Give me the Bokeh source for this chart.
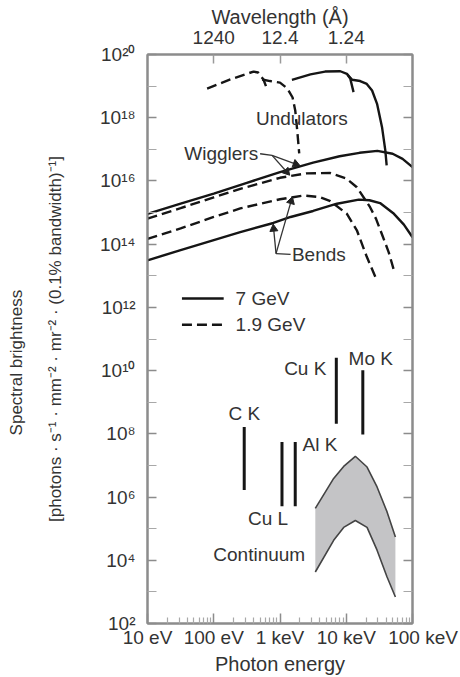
import math
import numpy as np
from bokeh.plotting import figure
from bokeh.models import LogAxis, FixedTicker, CustomJSTickFormatter, Range1d
from bokeh.core.properties import value
from bokeh.embed import file_html
from bokeh.resources import INLINE

# ---------------- data (log10 photon energy in eV, log10 spectral brightness) -------------
wig7_logE = [1.0, 1.5, 2.0, 2.5, 3.0, 3.5, 3.9, 4.2, 4.47, 4.7, 4.85, 5.0]
wig7_logB = [14.96, 15.28, 15.60, 15.94, 16.28, 16.58, 16.78, 16.89, 16.95, 16.86, 16.70, 16.44]

bend7_logE = [1.0, 1.5, 2.0, 2.4, 2.9, 3.16, 3.5, 3.86, 4.19, 4.35, 4.51, 4.72, 4.87, 5.0]
bend7_logB = [13.49, 13.81, 14.13, 14.38, 14.67, 14.86, 15.05, 15.28, 15.41, 15.39, 15.30, 14.96, 14.62, 14.22]

wig19_logE = [1.0, 1.5, 2.0, 2.4, 3.0, 3.4, 3.76, 4.0, 4.16, 4.36, 4.45, 4.55, 4.64, 4.72]
wig19_logB = [14.81, 15.14, 15.48, 15.75, 16.10, 16.24, 16.25, 16.08, 15.80, 15.17, 14.80, 14.25, 13.75, 13.17]

bend19_logE = [1.0, 1.5, 2.0, 2.4, 3.0, 3.36, 3.6, 3.76, 4.01, 4.16, 4.31, 4.44]
bend19_logB = [14.17, 14.50, 14.86, 15.13, 15.42, 15.54, 15.49, 15.36, 14.96, 14.44, 13.60, 12.96]

und7a_logE = [3.18, 3.46, 3.68, 3.91, 4.01, 4.06, 4.11]
und7a_logB = [19.20, 19.37, 19.46, 19.47, 19.39, 19.24, 18.81]
und7b_logE = [4.02, 4.09, 4.21, 4.31, 4.39, 4.465, 4.54, 4.59, 4.61]
und7b_logB = [19.36, 19.20, 19.16, 19.07, 18.86, 18.44, 17.70, 16.96, 16.49]

und19a_logE = [1.90, 2.25, 2.60, 2.67, 2.75, 2.79]
und19a_logB = [18.92, 19.21, 19.46, 19.43, 19.21, 18.99]
und19b_logE = [2.73, 2.85, 3.0, 3.11, 3.19, 3.23, 3.26, 3.29]
und19b_logB = [19.21, 19.16, 19.11, 18.93, 18.64, 18.23, 17.60, 16.87]

# characteristic lines
line_names = ["C K", "Cu L", "Al K", "Cu K", "Mo K"]
line_logE = [2.46, 3.03, 3.23, 3.85, 4.25]
line_top = [8.22, 7.74, 7.74, 10.41, 10.01]
line_bottom = [6.22, 5.71, 5.71, 8.32, 7.98]

# bremsstrahlung continuum band
cont_logE = [3.533, 3.81, 3.961, 4.137, 4.314, 4.465, 4.616, 4.742]
cont_upper = [5.64, 6.59, 6.97, 7.29, 6.95, 6.32, 5.53, 4.74]
cont_lower = [3.63, 4.63, 5.04, 5.26, 5.04, 4.32, 3.47, 2.84]

# legend
legend_labels = ["7 GeV", "1.9 GeV"]
legend_key_logE = [1.52, 2.15]
legend_row_logB = [12.28, 11.45]

# axes
energy_ticks = [10, 100, 1000, 10000, 100000]
energy_labels = ["10 eV", "100 eV", "1 keV", "10 keV", "\u00a0\u00a0\u00a0\u00a0100 keV"]
wavelength_tick_pos = [100, 1000, 10000]
wavelength_labels = ["1240", "12.4", "1.24"]
bright_ticks = [1e2, 1e4, 1e6, 1e8, 1e10, 1e12, 1e14, 1e16, 1e18, 1e20]
bright_labels = ["10²", "10⁴", "10⁶", "10⁸", "10¹⁰", "10¹²", "10¹⁴", "10¹⁶", "10¹⁸", "10²⁰"]
bright_minor = [1e3, 1e5, 1e7, 1e9, 1e11, 1e13, 1e15, 1e17, 1e19]

# ---------------- styling ----------------
FONT = "Liberation Sans"
TXT = "#333333"
AX = "#8c8c8c"
INK = "#151515"
DASH = "10 5"
W, H = 460, 677
BL, BR, BT, BB = 147, 48, 54, 54


def E(v):
    return [10 ** a for a in v]


def fmt(tvals, tlabels):
    return CustomJSTickFormatter(args=dict(tv=tvals, tl=tlabels), code="""
        for (let i = 0; i < tv.length; i++) {
            if (Math.abs(Math.log10(tv[i]) - Math.log10(tick)) < 1e-6) return tl[i];
        }
        return "";
    """)


p = figure(width=W, height=H, x_axis_type="log", y_axis_type="log",
           x_range=Range1d(10, 1e5), y_range=Range1d(1e2, 1e20),
           output_backend="svg", toolbar_location=None,
           min_border_left=BL, min_border_right=BR, min_border_top=BT, min_border_bottom=BB)
p.grid.grid_line_color = None
p.outline_line_color = AX
p.outline_line_width = 2
p.background_fill_color = "white"
p.border_fill_color = "white"


def style_axis(ax):
    ax.axis_line_color = AX
    ax.axis_line_width = 2
    ax.major_tick_line_color = AX
    ax.minor_tick_line_color = "#a8a8a8"
    ax.major_tick_line_width = 1.5
    ax.minor_tick_line_width = 1.2
    ax.major_tick_out = 0
    ax.minor_tick_out = 0
    ax.major_label_text_font = FONT
    ax.major_label_text_font_size = "19px"
    ax.major_label_text_color = TXT
    ax.axis_label_text_font = FONT
    ax.axis_label_text_font_style = "normal"
    ax.axis_label_text_color = TXT


# bottom axis
xa = p.xaxis[0]
style_axis(xa)
xa.ticker = FixedTicker(ticks=energy_ticks,
                        minor_ticks=[m * d for d in energy_ticks[:-1] for m in range(2, 10)])
xa.formatter = fmt(energy_ticks, energy_labels)
xa.major_tick_in = 10
xa.minor_tick_in = 6
xa.major_label_standoff = 3
xa.axis_label = "Photon energy"
xa.axis_label_text_font_size = "20px"
xa.axis_label_standoff = 2

# left axis
ya = p.yaxis[0]
style_axis(ya)
ya.ticker = FixedTicker(ticks=bright_ticks, minor_ticks=bright_minor)
ya.formatter = fmt(bright_ticks, bright_labels)
ya.major_tick_in = 9
ya.minor_tick_in = 9
ya.major_label_standoff = 12
ya.axis_label = "[photons · s⁻¹ · mm⁻² · mr⁻² · (0.1% bandwidth)⁻¹]"
ya.axis_label_text_font_size = "17px"
ya.axis_label_standoff = 32

# outer left axis carrying only the first line of the y label
ya2 = LogAxis(ticker=FixedTicker(ticks=[]),
              axis_label="Spectral brightness" + "\u00a0" * 10)
style_axis(ya2)
ya2.axis_line_color = None
ya2.major_tick_in = 0
ya2.minor_tick_in = 0
ya2.major_label_standoff = 0
ya2.axis_label_text_font_size = "17px"
ya2.axis_label_standoff = 17
p.add_layout(ya2, "left")

# top axis
ta = LogAxis(ticker=FixedTicker(ticks=wavelength_tick_pos, minor_ticks=[]),
             formatter=fmt(wavelength_tick_pos, wavelength_labels),
             axis_label="Wavelength (Å)")
style_axis(ta)
ta.major_tick_in = 9
ta.major_tick_line_color = "#9a9a9a"
ta.major_label_standoff = 11
ta.axis_label_text_font_size = "20px"
ta.axis_label_standoff = 0
p.add_layout(ta, "above")

# right axis (ticks only)
ra = LogAxis(ticker=FixedTicker(ticks=bright_ticks, minor_ticks=bright_minor),
             formatter=CustomJSTickFormatter(code="return '';"))
style_axis(ra)
ra.major_tick_in = 9
ra.minor_tick_in = 9
ra.major_label_standoff = 0
p.add_layout(ra, "right")

# ---------------- curves ----------------
LW = 2.4
p.line(E(wig7_logE), E(wig7_logB), line_color=INK, line_width=LW)
p.line(E(bend7_logE), E(bend7_logB), line_color=INK, line_width=LW)
p.line(E(wig19_logE), E(wig19_logB), line_color=INK, line_width=LW, line_dash=DASH)
p.line(E(bend19_logE), E(bend19_logB), line_color=INK, line_width=LW, line_dash=DASH)
p.line(E(und7a_logE), E(und7a_logB), line_color=INK, line_width=LW)
p.line(E(und7b_logE), E(und7b_logB), line_color=INK, line_width=LW)
p.line(E(und19a_logE), E(und19a_logB), line_color=INK, line_width=LW, line_dash=DASH)
p.line(E(und19b_logE), E(und19b_logB), line_color=INK, line_width=LW, line_dash=DASH)

# characteristic lines
p.segment(x0=E(line_logE), y0=E(line_bottom), x1=E(line_logE), y1=E(line_top),
          line_color=INK, line_width=3)

# continuum
p.varea(x=E(cont_logE), y1=E(cont_lower), y2=E(cont_upper), fill_color="#c4c4c6")
p.line(E(cont_logE), E(cont_upper), line_color="#444444", line_width=1.6)
p.line(E(cont_logE), E(cont_lower), line_color="#444444", line_width=1.6)

# legend keys (solid = 7 GeV, dashed = 1.9 GeV)
p.line(E(legend_key_logE), E([legend_row_logB[0]] * 2), line_color=INK, line_width=LW)
p.line(E(legend_key_logE), E([legend_row_logB[1]] * 2), line_color=INK, line_width=LW,
       line_dash=DASH)


# ---------------- text annotations ----------------
def texts(logx, logy, labels, align, size):
    p.text(x=E(logx), y=E(logy), text=labels, text_align=value(align),
           text_baseline=value("middle"), text_font=value(FONT),
           text_font_size=value(size), text_color=TXT)


texts([2.33, 2.33], legend_row_logB, legend_labels, "left", "19px")
texts([3.33, 2.46, 4.37, 2.82], [17.98, 8.65, 10.39, 5.33],
      ["Undulators", "C K", "Mo K", "Cu L"], "center", "19px")
texts([2.67, 3.70, 3.38], [16.88, 10.07, 4.19], ["Wigglers", "Cu K", "Continuum"], "right", "19px")
texts([3.18, 3.34], [13.68, 7.67], ["Bends", "Al K"], "left", "19px")

# leader lines
wig_leader_logE = [2.70, 2.88]
wig_leader_logB = [16.86, 16.81]
p.line(E(wig_leader_logE), E(wig_leader_logB), line_color="#333333", line_width=1.3)
bend_leader_logE = [3.16, 2.94]
bend_leader_logB = [13.68, 13.70]
p.line(E(bend_leader_logE), E(bend_leader_logB), line_color="#333333", line_width=1.3)

# arrows: shafts + triangular heads
arrow_x0 = [2.88, 2.88, 2.94, 2.94]
arrow_y0 = [16.81, 16.81, 13.70, 13.70]
arrow_x1 = [3.28, 3.13, 2.90, 3.18]
arrow_y1 = [16.50, 16.22, 14.58, 15.45]
p.segment(x0=E(arrow_x0), y0=E(arrow_y0), x1=E(arrow_x1), y1=E(arrow_y1),
          line_color="#333333", line_width=1.3)

# screen direction of each arrow (pixels per decade of the frame)
px_x = (W - BL - BR) / 4.0
px_y = (H - BT - BB) / 18.0
head_angles = []
head_x, head_y = [], []
for x0, y0, x1, y1 in zip(arrow_x0, arrow_y0, arrow_x1, arrow_y1):
    dx, dy = (x1 - x0) * px_x, (y1 - y0) * px_y
    ang = math.atan2(dy, dx)
    head_angles.append(ang - math.pi / 2)
    L = math.hypot(dx, dy)
    back = 3.0 / L  # pull the marker centre back slightly so its tip meets the line
    head_x.append(x1 - (x1 - x0) * back)
    head_y.append(y1 - (y1 - y0) * back)
p.scatter(x=E(head_x), y=E(head_y), marker="triangle", size=8, angle=head_angles,
          fill_color="#222222", line_color="#222222", line_width=1)

open("out.html", "w").write(file_html(p, INLINE))
